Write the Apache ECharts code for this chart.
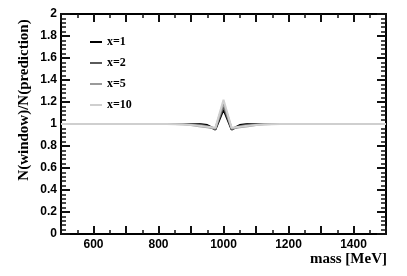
<!DOCTYPE html>
<html><head><meta charset="utf-8">
<script src="https://cdn.jsdelivr.net/npm/echarts@6/dist/echarts.min.js"></script>
<style>html,body{margin:0;padding:0;background:#fff}#c{width:407px;height:276px}</style>
</head><body><div id="c"></div>
<script>
const masses = [500,525,550,575,600,625,650,675,700,725,750,775,800,825,850,875,900,925,950,975,1000,1025,1050,1075,1100,1125,1150,1175,1200,1225,1250,1275,1300,1325,1350,1375,1400,1425,1450,1475,1500];
const seriesNames = ['x=1','x=2','x=5','x=10'];
const seriesColors = ['#000000','#5a5a5a','#9a9a9a','#cfcfcf'];
const valsX1  = [1,1,1,1,1,1,1,1,1,1,1,1,1,1,1,1,1,1.0,0.99,0.95,1.13,0.95,0.99,1.0,1,1,1,1,1,1,1,1,1,1,1,1,1,1,1,1,1];
const valsX2  = [1,1,1,1,1,1,1,1,1,1,1,1,1,1,1,1,1.0,0.995,0.98,0.955,1.16,0.955,0.98,0.995,1.0,1,1,1,1,1,1,1,1,1,1,1,1,1,1,1,1];
const valsX5  = [1,1,1,1,1,1,1,1,1,1,1,1,1,1,1,0.998,0.99,0.98,0.97,0.96,1.19,0.96,0.97,0.98,0.99,0.998,1,1,1,1,1,1,1,1,1,1,1,1,1,1,1];
const valsX10 = [1,1,1,1,1,1,1,1,1,1,1,1,1,1,0.998,0.995,0.99,0.985,0.975,0.965,1.22,0.965,0.975,0.985,0.99,0.995,0.998,1,1,1,1,1,1,1,1,1,1,1,1,1,1];
const allVals = [valsX1, valsX2, valsX5, valsX10];

const chart = echarts.init(document.getElementById('c'));
const sans = 'Liberation Sans';
const serif = 'Liberation Serif';
const tickCol = '#111111';
function xAx(pos, labels){
  return {type:'value', min:500, max:1500, interval:100, position:pos, splitLine:{show:false},
    axisLine:{show:true, onZero:false, lineStyle:{color:'#000', width:2}},
    axisTick:{show:true, inside:true, length:8, lineStyle:{color:tickCol, width:2}},
    minorTick:{show:true, splitNumber:2, length:4, lineStyle:{color:tickCol, width:1.5}},
    axisLabel: labels ? {show:true, inside:false, showMinLabel:false, showMaxLabel:false, margin:5, color:'#000',
      fontFamily:sans, fontWeight:'bold', fontSize:12, formatter:v=>(v%200===0?String(v):'')} : {show:false}};
}
function yAx(pos, labels){
  return {type:'value', min:0, max:2, interval:0.2, position:pos, splitLine:{show:false},
    axisLine:{show:true, onZero:false, lineStyle:{color:'#000', width:2}},
    axisTick:{show:true, inside:true, length:9, lineStyle:{color:tickCol, width:2}},
    minorTick:{show:true, splitNumber:5, length:5, lineStyle:{color:tickCol, width:1.5}},
    axisLabel: labels ? {show:true, inside:false, margin:4, color:'#000', fontFamily:sans, fontWeight:'bold', fontSize:12,
      formatter:v=>String(Math.round(v*10)/10)} : {show:false}};
}
const option = {
  animation:false,
  grid:{left:61, right:21, top:14, bottom:42},
  xAxis:[xAx('bottom',true), xAx('top',false)],
  yAxis:[yAx('left',true), yAx('right',false)],
  legend:{orient:'vertical', left:85, top:30, itemWidth:12, itemHeight:2, itemGap:7, icon:'rect',
    data:seriesNames,
    textStyle:{color:'#000', fontFamily:serif, fontWeight:'bold', fontSize:12, lineHeight:14}},
  graphic:[
    {type:'text', x:24, y:100, rotation:Math.PI/2,
      style:{text:'N(window)/N(prediction)', fill:'#000', font:'bold 15px "Liberation Serif"', align:'center', verticalAlign:'middle'}},
    {type:'text', right:20, top:252,
      style:{text:'mass [MeV]', fill:'#000', font:'bold 15px "Liberation Serif"'}}
  ],
  series: seriesNames.map((n,i)=>({
    name:n, type:'line', xAxisIndex:0, yAxisIndex:0, symbol:'none',
    lineStyle:{color:seriesColors[i], width:2}, itemStyle:{color:seriesColors[i]},
    data: masses.map((m,j)=>[m, allVals[i][j]])
  }))
};
chart.setOption(option);
</script></body></html>
